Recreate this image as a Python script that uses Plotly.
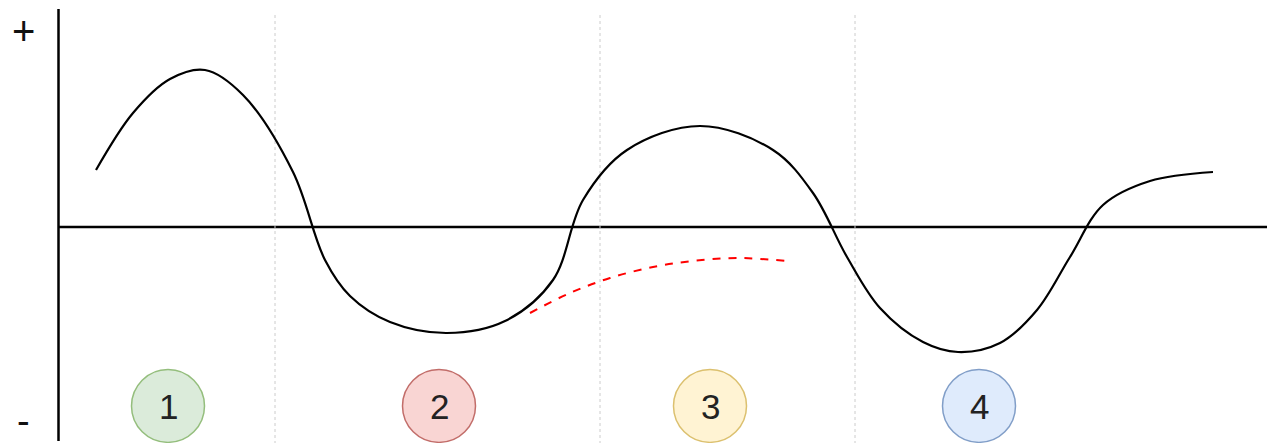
import plotly.graph_objects as go

# main wave, x in px across, y relative to the zero line (up = +)
CURVE_X = [96, 133, 170, 205, 243, 293, 325, 350, 390, 447, 505, 553, 583, 627,
           700, 773, 813, 847, 880, 923, 958, 1000, 1037, 1070, 1103, 1150, 1213]
CURVE_Y = [57, 114, 148, 157, 132, 55, -33, -69, -95, -106, -94, -53, 27, 77,
           101, 77, 34, -30, -81, -115, -125, -116, -83, -30, 22, 46, 55]

# red dashed continuation
GUIDE_X = [530, 570, 610, 653, 693, 737, 787]
GUIDE_Y = [-86, -66, -51, -40, -34, -31, -34]

DIVIDERS = [275, 600, 855]

PHASE_LABELS = ["1", "2", "3", "4"]
PHASE_X = [168, 439, 710, 979]
PHASE_Y = -179
PHASE_FILL = ["#d5e8d4", "#f8cecc", "#fff2cc", "#dae8fc"]
PHASE_LINE = ["#82b366", "#b85450", "#d6b656", "#6c8ebf"]

W, H = 1275, 443
ZERO = 227  # pixel row of the zero line
OFF = 8     # page body margin

fig = go.Figure()

shapes = []
# axes
shapes.append(dict(type="line", x0=58.5, x1=58.5, y0=ZERO - 9, y1=ZERO - 441,
                   line=dict(color="black", width=2.5), layer="below"))
shapes.append(dict(type="line", x0=58.5, x1=W + OFF, y0=0, y1=0,
                   line=dict(color="black", width=2.5), layer="below"))
for dx in DIVIDERS:
    shapes.append(dict(type="line", x0=dx, x1=dx, y0=ZERO - 15, y1=ZERO - H - OFF,
                       line=dict(color="#cccccc", width=1, dash="dot"), layer="below"))
r = 36.5
for cx, fc, lc in zip(PHASE_X, PHASE_FILL, PHASE_LINE):
    shapes.append(dict(type="circle", x0=cx - r, x1=cx + r, y0=PHASE_Y - r, y1=PHASE_Y + r,
                       fillcolor=fc, line=dict(color=lc, width=1.5), opacity=0.85))

fig.add_trace(go.Scatter(x=CURVE_X, y=CURVE_Y, mode="lines",
                         line=dict(color="black", width=2.2, shape="spline", smoothing=1),
                         hoverinfo="skip"))
fig.add_trace(go.Scatter(x=GUIDE_X, y=GUIDE_Y, mode="lines",
                         line=dict(color="#ff0000", width=2, dash="8px,8px", shape="spline"),
                         hoverinfo="skip"))

annotations = [
    dict(x=cx, y=PHASE_Y, text=t, showarrow=False,
         font=dict(family="Liberation Sans, Arial", size=35, color="#222222"))
    for cx, t in zip(PHASE_X, PHASE_LABELS)
]
annotations.append(dict(x=23, y=ZERO - 31, text="+", showarrow=False,
                        font=dict(family="Liberation Sans, Arial", size=40, color="#111111")))
annotations.append(dict(x=23, y=ZERO - H, yanchor="bottom", borderpad=0, text="-", showarrow=False,
                        font=dict(family="Liberation Sans, Arial", size=38, color="#111111")))

fig.update_layout(
    width=W, height=H,
    margin=dict(l=0, r=0, t=0, b=0),
    paper_bgcolor="white", plot_bgcolor="white",
    showlegend=False,
    shapes=shapes,
    annotations=annotations,
    xaxis=dict(range=[OFF, W + OFF], visible=False, fixedrange=True),
    yaxis=dict(range=[ZERO - H - OFF, ZERO - OFF], visible=False, fixedrange=True),
)

fig.write_html("out.html")
